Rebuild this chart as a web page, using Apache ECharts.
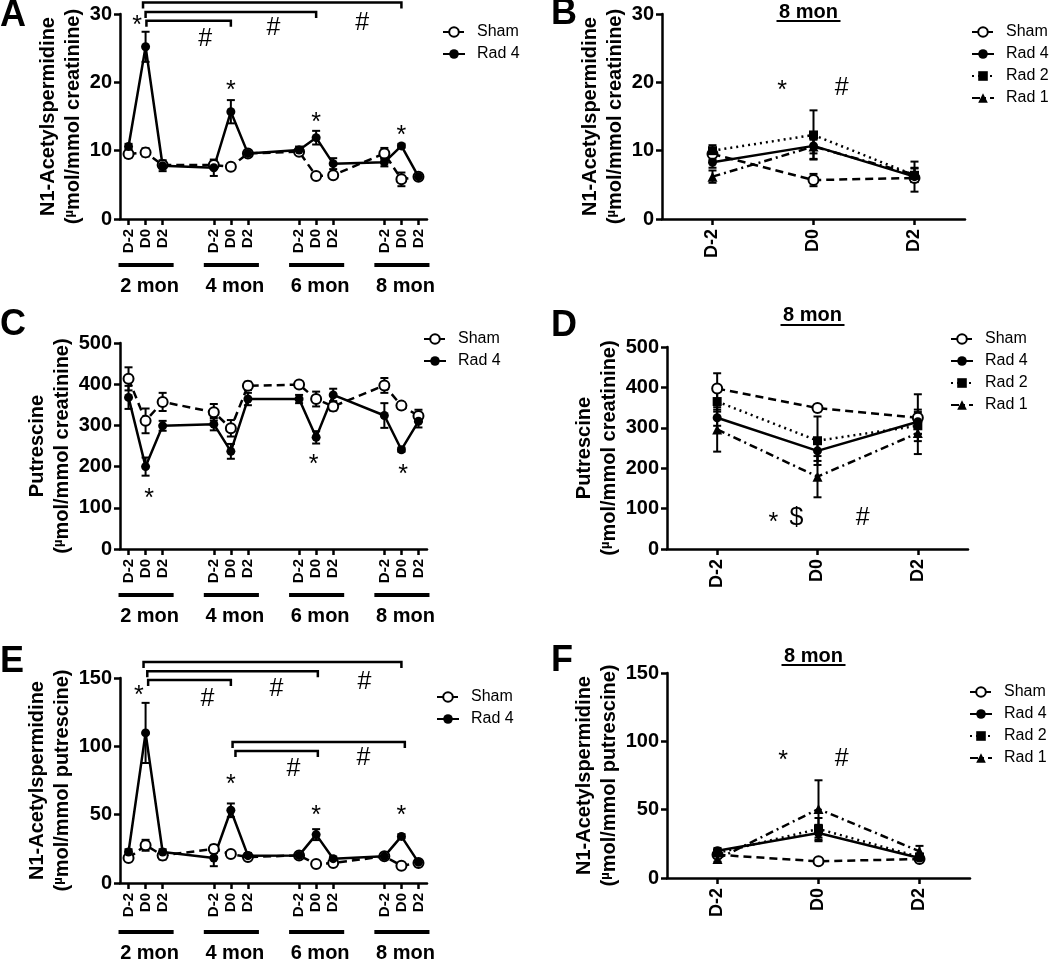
<!DOCTYPE html>
<html><head><meta charset="utf-8">
<script src="https://cdn.jsdelivr.net/npm/echarts@6/dist/echarts.min.js"></script>
<style>html,body{margin:0;padding:0;background:#fff}#c{width:1050px;height:961px}</style>
</head><body><div id="c"></div>
<script>
const FONT = '"Liberation Sans", Arial, Helvetica, sans-serif';

// ---------- categories / ticks ----------
const timeCats = ['D-2','D0','D2','','','D-2','D0','D2','','','D-2','D0','D2','','','D-2','D0','D2'];
const dayCats = ['D-2','D0','D2'];
const monthLabels = ['2 mon','4 mon','6 mon','8 mon'];
const panelTitle = '8 mon';

// ---------- Panel A: N1-Acetylspermidine (umol/mmol creatinine) ----------
const aShamMean = [9.5, 9.75, 7.9, 7.9, 7.65, 9.6, 9.85, 6.3, 6.4, 9.6, 5.8, 6.2];
const aShamErr  = [0.5, 0.6, 0.4, 0.5, 0.3, 0.4, 0.4, 0.3, 0.3, 0.8, 1.0, 0.3];
const aRad4Mean = [10.6, 25.2, 7.8, 7.5, 15.7, 9.6, 10.1, 11.9, 8.1, 8.3, 10.7, 6.2];
const aRad4Err  = [0.4, 2.2, 0.8, 1.2, 1.7, 0.5, 0.5, 1.0, 0.8, 0.6, 0.3, 0.3];

// ---------- Panel B: 8 mon ----------
const bShamMean = [9.5, 5.7, 6.0];   const bShamErr = [0.8, 0.9, 0.5];
const bRad4Mean = [8.3, 10.7, 6.2];  const bRad4Err = [0.8, 1.9, 2.2];
const bRad2Mean = [10.0, 12.3, 6.4]; const bRad2Err = [0.8, 3.6, 1.0];
const bRad1Mean = [6.2, 10.6, 6.5];  const bRad1Err = [0.9, 1.0, 1.0];

// ---------- Panel C: Putrescine ----------
const cShamMean = [413, 311, 357, 332, 293, 396, 399, 364, 346, 397, 348, 323];
const cShamErr  = [28, 30, 22, 20, 20, 10, 8, 18, 10, 18, 8, 15];
const cRad4Mean = [368, 200, 299, 303, 237, 364, 364, 271, 374, 324, 241, 310];
const cRad4Err  = [28, 22, 12, 15, 18, 15, 10, 15, 15, 30, 5, 15];

// ---------- Panel D: 8 mon ----------
const dShamMean = [397, 349, 325]; const dShamErr = [38, 8, 58];
const dRad4Mean = [325, 243, 315]; const dRad4Err = [20, 25, 30];
const dRad2Mean = [365, 268, 305]; const dRad2Err = [25, 60, 20];
const dRad1Mean = [296, 179, 287]; const dRad1Err = [55, 51, 52];

// ---------- Panel E: N1-Acetylspermidine (umol/mmol putrescine) ----------
const eShamMean = [18.3, 27.6, 20.2, 24.9, 21.2, 19.0, 20.2, 13.9, 14.6, 19.5, 12.7, 14.6];
const eShamErr  = [2, 4, 3, 3, 1.5, 1.5, 1.5, 1, 1, 1, 2, 1];
const eRad4Mean = [22.7, 109.8, 22.7, 18.3, 53.2, 20.0, 20.2, 35.4, 17.8, 19.5, 34.1, 15.1];
const eRad4Err  = [2, 22, 2, 6, 5, 2, 2, 4, 1.5, 2, 1.5, 1.5];

// ---------- Panel F: 8 mon ----------
const fShamMean = [17, 12.2, 13.9];   const fShamErr = [1, 1, 1];
const fRad4Mean = [20, 32.9, 14.6];   const fRad4Err = [2, 6, 2];
const fRad2Mean = [18.3, 35.9, 15.4]; const fRad2Err = [2, 8, 2];
const fRad1Mean = [13.9, 50.5, 19.5]; const fRad1Err = [2, 21, 4];

// ---------- significance annotations (category index, data value) ----------
const sigA = [['*',0.5,29.1],['*',6,19.6],['*',11,14.9],['*',16,13.0],['#',4.5,26.5],['#',8.5,28.1],['#',13.7,28.8]];
const bracketsA = [[0.85,16,31.7],[1,11,30.3],[1.05,6,29.0]];
const sigB = [['*',0.69,19.6],['#',1.28,19.3]];
const sigC = [['*',1.2,136],['*',10.85,218],['*',16.1,194]];
const sigD = [['*',0.56,79],['$',0.79,79],['#',1.45,79]];
const sigE = [['*',0.6,141.2],['*',6,76],['*',11,53.4],['*',16,53.4],['#',4.63,135.3],['#',8.68,142.6],['#',13.83,147.8],['#',9.67,84.1],['#',13.77,92.2]];
const bracketsE = [[0.88,16,161.7],[1.1,11.1,155],[1.15,6,148.5],[6.1,16.2,103.1],[6.27,11.1,96.6]];
const sigF = [['*',0.65,90],['#',1.23,87.8]];

// ---------- styles ----------
const STYLE = {
  'Sham':  {symbol:'emptyCircle', size:10, dash:[8,5], border:2.5},
  'Rad 4': {symbol:'circle', size:9, dash:'solid', border:0},
  'Rad 2': {symbol:'rect', size:9, dash:[2,4], border:0},
  'Rad 1': {symbol:'triangle', size:10, dash:[8,4,2,4], border:0}
};
const slotIdx = timeCats.map((c,i)=> c ? i : -1).filter(i=>i>=0);
function toSlots(vals){ const out = timeCats.map(()=>null); slotIdx.forEach((s,k)=>{out[s]=vals[k];}); return out; }

function lineSeries(name, gi, data){
  const st = STYLE[name];
  return {type:'line', name, xAxisIndex:gi, yAxisIndex:gi, data, connectNulls:true,
    symbol:st.symbol, symbolSize:st.size, showSymbol:true, z:3, animation:false,
    lineStyle:{color:'#000', width:2.5, type:st.dash},
    itemStyle:{color:'#000', borderColor:'#000', borderWidth:st.border},
    emphasis:{disabled:true}};
}
function errSeries(name, gi, xs, means, errs){
  return {type:'custom', name:name+' error', xAxisIndex:gi, yAxisIndex:gi, z:2, silent:true, animation:false,
    data: xs.map((x,k)=>[x, means[k], errs[k]]),
    encode:{x:0, y:1},
    renderItem(params, api){
      const x = api.value(0), m = api.value(1), e = api.value(2);
      const t = api.coord([x, m+e]), b = api.coord([x, m-e]);
      const hw = 4, st = {stroke:'#000', lineWidth:2};
      return {type:'group', children:[
        {type:'line', shape:{x1:t[0],y1:t[1],x2:b[0],y2:b[1]}, style:st},
        {type:'line', shape:{x1:t[0]-hw,y1:t[1],x2:t[0]+hw,y2:t[1]}, style:st},
        {type:'line', shape:{x1:b[0]-hw,y1:b[1],x2:b[0]+hw,y2:b[1]}, style:st}
      ]};
    }};
}

const grids = [
  {left:120, top:14,  width:307, height:205},
  {left:662, top:14,  width:303, height:205},
  {left:120, top:343, width:307, height:206},
  {left:667, top:347, width:301, height:202},
  {left:120, top:678, width:307, height:205},
  {left:667, top:673, width:303, height:205}
];

const axLine = {show:true, lineStyle:{color:'#000', width:2.5}};
const axTick = {show:true, length:6, lineStyle:{color:'#000', width:2.5}};
function richName(l1, l2){ return l1 + '\n{t|(}{u|µ}{t|' + l2 + ')}'; }
function yAxis(gi, max, interval, l1, l2, gap){
  return {type:'value', gridIndex:gi, min:0, max, interval,
    axisLine:axLine, axisTick:axTick, splitLine:{show:false},
    axisLabel:{color:'#000', fontSize:20, fontWeight:'bold', fontFamily:FONT, margin:8},
    name: richName(l1, l2), nameLocation:'middle', nameGap:gap,
    nameTextStyle:{color:'#000', fontSize:20, fontWeight:'bold', fontFamily:FONT, lineHeight:25,
      rich:{t:{color:'#000', fontSize:20, fontWeight:'bold', fontFamily:FONT, lineHeight:25},
            u:{color:'#000', fontSize:13, fontWeight:'bold', fontFamily:FONT, lineHeight:25, padding:[0,0,8,0]}}}};
}
function xTime(gi){
  return {type:'category', gridIndex:gi, data:timeCats, boundaryGap:true,
    axisLine:axLine,
    axisTick:{show:true, alignWithLabel:true, interval:(i,v)=>v!=='', length:6, lineStyle:{color:'#000', width:2.5}},
    axisLabel:{interval:0, rotate:90, fontSize:15, fontWeight:'bold', fontFamily:FONT, color:'#000', margin:10}};
}
function xDay(gi){
  return {type:'category', gridIndex:gi, data:dayCats, boundaryGap:true,
    axisLine:axLine,
    axisTick:{show:true, alignWithLabel:true, length:6, lineStyle:{color:'#000', width:2.5}},
    axisLabel:{interval:0, rotate:90, fontSize:18, fontWeight:'bold', fontFamily:FONT, color:'#000', margin:10}};
}

const dayIdx = [0,1,2];
const series = [
  lineSeries('Sham',0,toSlots(aShamMean)), lineSeries('Rad 4',0,toSlots(aRad4Mean)),
  errSeries('Sham A',0,slotIdx,aShamMean,aShamErr), errSeries('Rad 4 A',0,slotIdx,aRad4Mean,aRad4Err),

  lineSeries('Sham',1,bShamMean), lineSeries('Rad 4',1,bRad4Mean), lineSeries('Rad 2',1,bRad2Mean), lineSeries('Rad 1',1,bRad1Mean),
  errSeries('Sham B',1,dayIdx,bShamMean,bShamErr), errSeries('Rad 4 B',1,dayIdx,bRad4Mean,bRad4Err),
  errSeries('Rad 2 B',1,dayIdx,bRad2Mean,bRad2Err), errSeries('Rad 1 B',1,dayIdx,bRad1Mean,bRad1Err),

  lineSeries('Sham',2,toSlots(cShamMean)), lineSeries('Rad 4',2,toSlots(cRad4Mean)),
  errSeries('Sham C',2,slotIdx,cShamMean,cShamErr), errSeries('Rad 4 C',2,slotIdx,cRad4Mean,cRad4Err),

  lineSeries('Sham',3,dShamMean), lineSeries('Rad 4',3,dRad4Mean), lineSeries('Rad 2',3,dRad2Mean), lineSeries('Rad 1',3,dRad1Mean),
  errSeries('Sham D',3,dayIdx,dShamMean,dShamErr), errSeries('Rad 4 D',3,dayIdx,dRad4Mean,dRad4Err),
  errSeries('Rad 2 D',3,dayIdx,dRad2Mean,dRad2Err), errSeries('Rad 1 D',3,dayIdx,dRad1Mean,dRad1Err),

  lineSeries('Sham',4,toSlots(eShamMean)), lineSeries('Rad 4',4,toSlots(eRad4Mean)),
  errSeries('Sham E',4,slotIdx,eShamMean,eShamErr), errSeries('Rad 4 E',4,slotIdx,eRad4Mean,eRad4Err),

  lineSeries('Sham',5,fShamMean), lineSeries('Rad 4',5,fRad4Mean), lineSeries('Rad 2',5,fRad2Mean), lineSeries('Rad 1',5,fRad1Mean),
  errSeries('Sham F',5,dayIdx,fShamMean,fShamErr), errSeries('Rad 4 F',5,dayIdx,fRad4Mean,fRad4Err),
  errSeries('Rad 2 F',5,dayIdx,fRad2Mean,fRad2Err), errSeries('Rad 1 F',5,dayIdx,fRad1Mean,fRad1Err)
];

function legend(left, top, names){
  return {left, top, orient:'vertical', itemWidth:22, itemHeight:12, itemGap:6, selectedMode:false,
    data:names, textStyle:{fontSize:16, color:'#000', fontFamily:FONT, padding:[0,0,0,7]}};
}
const two = ['Sham','Rad 4'], four = ['Sham','Rad 4','Rad 2','Rad 1'];

const chart = echarts.init(document.getElementById('c'), null, {renderer:'canvas'});
chart.setOption({
  backgroundColor:'#fff', animation:false,
  grid: grids,
  xAxis: [xTime(0), xDay(1), xTime(2), xDay(3), xTime(4), xDay(5)],
  yAxis: [
    yAxis(0,30,10,'N1-Acetylspermidine','mol/mmol creatinine',34),
    yAxis(1,30,10,'N1-Acetylspermidine','mol/mmol creatinine',34),
    yAxis(2,500,100,'Putrescine','mol/mmol creatinine',45),
    yAxis(3,500,100,'Putrescine','mol/mmol creatinine',44),
    yAxis(4,150,50,'N1-Acetylspermidine','mol/mmol putrescine',45),
    yAxis(5,150,50,'N1-Acetylspermidine','mol/mmol putrescine',43)
  ],
  legend: [legend(437,19,two), legend(966,19,four), legend(418,326,two), legend(945,326,four), legend(431,684,two), legend(964,679,four)],
  series
});

// ---------- annotations via the chart's own scales ----------
function px(gi, x, y){
  const x0 = Math.floor(x), x1 = Math.ceil(x);
  const p0 = chart.convertToPixel({gridIndex:gi}, [x0, y]);
  if (x0 === x1) return p0;
  const p1 = chart.convertToPixel({gridIndex:gi}, [x1, y]);
  const f = x - x0;
  return [p0[0] + (p1[0]-p0[0])*f, p0[1]];
}
const g = [];
const DY = {'*':6, '#':1, '$':1};
function addSig(gi, list){
  list.forEach(([t,x,y])=>{
    const p = px(gi,x,y);
    g.push({type:'text', x:p[0], y:p[1]+DY[t], style:{text:t, fill:'#000', font:'25px '+FONT, align:'center', verticalAlign:'middle'}});
  });
}
function addBrackets(gi, list){
  list.forEach(([a,b,y])=>{
    const p1 = px(gi,a,y), p2 = px(gi,b,y);
    g.push({type:'polyline', shape:{points:[[p1[0],p1[1]+6],[p1[0],p1[1]],[p2[0],p2[1]],[p2[0],p2[1]+6]]},
      style:{stroke:'#000', lineWidth:2.5, fill:null}});
  });
}
addSig(0,sigA); addBrackets(0,bracketsA);
addSig(1,sigB); addSig(2,sigC); addSig(3,sigD);
addSig(4,sigE); addBrackets(4,bracketsE);
addSig(5,sigF);

// month group bars and labels
[[0,46,67],[2,46,67],[4,49,70]].forEach(([gi,barOff,txtOff])=>{
  const yAx = px(gi,0,0)[1];
  monthLabels.forEach((lab,k)=>{
    const s = slotIdx[k*3];
    const a = px(gi,s,0)[0], m = px(gi,s+1,0)[0], b = px(gi,s+2,0)[0];
    g.push({type:'line', shape:{x1:a-10,y1:yAx+barOff,x2:b+11,y2:yAx+barOff}, style:{stroke:'#000', lineWidth:4}});
    g.push({type:'text', x:m+4, y:yAx+txtOff, style:{text:lab, fill:'#000', font:'bold 20px '+FONT, align:'center', verticalAlign:'middle'}});
  });
});
// "8 mon" titles with underline
[[1,12,21],[3,315,325],[5,656,665]].forEach(([gi,ty,uy])=>{
  const cx = px(gi,1,0)[0] - 5;
  g.push({type:'text', x:cx, y:ty, style:{text:panelTitle, fill:'#000', font:'bold 20px '+FONT, align:'center', verticalAlign:'middle'}});
  g.push({type:'line', shape:{x1:cx-32,y1:uy,x2:cx+32,y2:uy}, style:{stroke:'#000', lineWidth:2}});
});
// panel letters
[['A',0,16],['B',551,14],['C',0,325],['D',551,326],['E',0,662],['F',551,661]].forEach(([t,x,y])=>{
  g.push({type:'text', x, y, style:{text:t, fill:'#000', font:'bold 36px '+FONT, align:'left', verticalAlign:'middle'}});
});
chart.setOption({graphic: g});
</script></body></html>
